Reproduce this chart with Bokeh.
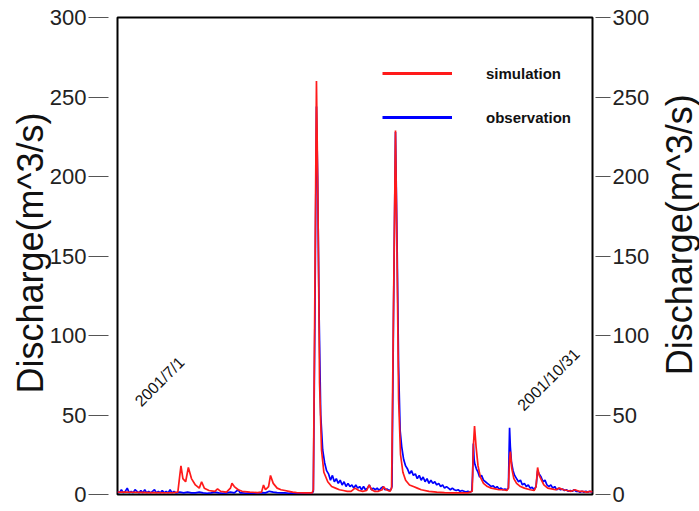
import math
import numpy as np
from bokeh.plotting import figure
from bokeh.layouts import row
from bokeh.models import (Range1d, LinearAxis, FixedTicker, Legend, LegendItem,
                          Label, Title, ColumnDataSource)
from bokeh.embed import file_html
from bokeh.resources import INLINE

# ---- data (day offset from 2001/7/1, discharge m^3/s) ----
sim_day = [0, 2, 4, 6, 8, 10, 12, 14, 15.5, 16.0, 16.3, 16.8, 17.5, 18.2, 19, 20, 21,
           21.6, 22.3, 23.5, 25, 25.7, 26.5, 28, 29, 29.4, 30, 31, 32, 34, 36, 37, 37.5,
           38, 38.8, 39.3, 40, 41, 42, 43, 44, 45, 46, 48, 50, 50.3, 50.7, 51.1, 51.5,
           51.9, 52.4, 53, 54, 55, 56, 57, 58, 59, 60, 61, 62, 63, 64, 64.6, 65.3, 66,
           67, 68, 68.3, 69, 70, 70.4, 70.9, 71.4, 71.8, 72.2, 72.7, 73.3, 74, 75, 76,
           77, 78, 80, 82, 84, 86, 88, 90, 91.1, 91.4, 91.7, 92.1, 92.6, 93.2, 94, 95,
           96, 97, 98, 99, 100, 100.4, 100.7, 100.9, 101.3, 101.8, 102.5, 103.5, 104.5,
           106, 107, 107.5, 107.9, 108.3, 108.9, 109.5, 110.5, 111.5, 112.5, 113.5,
           114.5, 115.5, 116.5, 117.5, 118.5, 119.5, 120.5, 121.5, 122]
sim_q = [1.5, 1.5, 1.4, 1.3, 1.2, 1.2, 1.1, 1.1, 1.5, 12, 18, 10, 8, 17, 10, 6, 4,
         8, 4, 2.5, 2, 3.5, 2, 1.5, 4, 7, 5, 3, 2, 1.5, 1.2, 1.5, 6,
         3, 5, 12, 7, 4, 3, 2.5, 2, 1.5, 1.2, 1.0, 1.0, 3, 130, 260, 180,
         70, 28, 14, 8, 5, 4, 3, 2.5, 2, 2, 4, 2.5, 2, 2.5, 6, 3, 2,
         2, 3, 5, 3, 2, 4, 120, 229, 150, 60, 25, 14, 9, 6, 5,
         4, 3, 2, 1.5, 1.2, 1, 1, 1, 2, 30, 43, 30, 18, 11, 7, 5,
         4, 3.5, 3, 3, 2.5, 4, 22, 27, 16, 10, 7, 5, 4,
         3, 2.5, 5, 17, 12, 9, 6, 4, 3.5, 3, 4,
         3, 2.5, 2, 3, 2, 2, 1.5, 2, 1.5]

obs_day = [0, 0.5, 1, 1.5, 2, 2.5, 3, 3.5, 4, 4.5, 5, 5.5, 6, 6.5, 7, 7.5, 8, 8.5, 9,
           9.5, 10, 10.5, 11, 11.5, 12, 12.5, 13, 13.5, 14, 14.5, 15, 16, 17, 18, 19,
           20, 21, 22, 23, 24, 25, 26, 27, 28, 29, 30, 31, 31.5, 32, 33, 34, 35, 36, 37,
           38, 39, 40, 41, 42, 43, 44, 45, 46, 47, 48, 49, 50, 50.3, 50.7, 51.1, 51.4,
           51.8, 52.2, 52.7, 53.2, 53.7, 54.2, 54.7, 55.2, 55.7, 56.2, 56.7, 57.2, 57.7,
           58.2, 58.7, 59.2, 59.7, 60.2, 60.7, 61.2, 61.7, 62.2, 62.7, 63.2, 63.7, 64.2,
           64.7, 65.2, 65.7, 66.2, 66.7, 67.2, 67.7, 68.2, 68.7, 69.2, 69.7, 70.2, 70.5,
           70.9, 71.4, 71.8, 72.2, 72.6, 73, 73.5, 74, 74.5, 75, 75.5, 76, 76.5, 77,
           77.5, 78, 78.5, 79, 79.5, 80, 80.5, 81, 81.5, 82, 82.5, 83, 83.5, 84, 84.5,
           85, 85.5, 86, 86.5, 87, 87.5, 88, 88.5, 89, 89.5, 90, 90.5, 91, 91.2, 91.4,
           91.6, 91.8, 92.2, 92.6, 93, 93.5, 94, 94.5, 95, 95.5, 96, 96.5, 97, 97.5, 98,
           98.5, 99, 99.5, 100, 100.4, 100.6, 100.7, 100.9, 101.2, 101.6, 102, 102.5,
           103, 103.5, 104, 104.5, 105, 105.5, 106, 106.5, 107, 107.5, 107.9, 108.3,
           108.8, 109.3, 109.8, 110.3, 110.8, 111.3, 111.8, 112.3, 112.8, 113.3, 113.8,
           114.3, 114.8, 115.3, 115.8, 116.3, 116.8, 117.3, 117.8, 118.3, 118.8, 119.3,
           119.8, 120.3, 120.8, 121.3, 121.8, 122]
obs_q = [2, 1, 3, 1, 2, 4, 1, 2, 1, 3, 2, 1, 2.5, 1, 3, 1, 2, 1, 2,
         3, 1, 2, 1, 2.5, 1, 2, 1, 3, 1, 2, 1, 1.5, 1, 1.5, 1,
         1, 1.5, 1, 0.8, 1, 1.5, 1, 0.8, 1, 1.5, 1, 3, 1, 1, 0.8, 1, 0.8, 1, 1.2,
         1, 2, 1.5, 1.2, 1, 1, 0.8, 1, 0.8, 1, 0.8, 1, 1, 2, 110, 244, 200,
         110, 50, 28, 20, 15, 13, 9, 12, 8, 10, 7, 9, 6,
         8, 5, 7, 5, 6, 4, 6, 4, 5, 3, 5, 3, 4,
         6, 3, 4, 3, 4, 2.5, 4, 5, 3, 3.5, 2.5, 3, 5,
         115, 228, 160, 80, 40, 30, 22, 18, 16, 13, 15, 12, 13, 10,
         12, 9, 11, 8, 10, 7, 9, 7, 8, 6, 7, 5, 6, 4, 5,
         4, 3, 4, 3, 2.5, 3, 2, 2.5, 2, 1.5, 2, 1.5, 2, 12, 32,
         22, 19, 16, 14, 11, 12, 9, 8, 7, 6, 5, 5.5, 4, 5, 3.5,
         4, 3, 3.5, 3, 4, 30, 42, 30, 20, 15, 12, 10,
         8, 9, 6, 7, 5, 6, 4, 4.5, 3, 5, 15, 13,
         11, 8, 9, 6, 5, 6, 4, 5, 3, 4, 3,
         3.5, 2.5, 3, 2, 2.5, 2, 3, 2, 2, 1.5, 2,
         1.5, 2, 1.5, 2, 1.5, 1.5]

y_ticks = [0, 50, 100, 150, 200, 250, 300]
y_title = "Discharge(m^3/s)"
series_names = ["simulation", "observation"]
date_labels = ["2001/7/1", "2001/10/31"]

FONT = "Liberation Sans"
TITLE_SIZE = "36px"
RED = "#ff1a1a"
BLUE = "#0000ff"

W, H, WT = 652, 507, 47
p = figure(width=W, height=H, output_backend="svg", toolbar_location=None,
           x_range=Range1d(0, 122), y_range=Range1d(0, 300),
           min_border_left=117, min_border_right=W - 592, min_border_top=17,
           min_border_bottom=H - 494)
p.xaxis.visible = False
p.xgrid.visible = False
p.ygrid.visible = False
p.outline_line_color = "black"
p.outline_line_width = 2
p.background_fill_color = "white"
p.border_fill_color = "white"

def style_axis(ax, tin, tout):
    ax.ticker = FixedTicker(ticks=y_ticks)
    ax.axis_line_color = None
    ax.major_tick_in = tin
    ax.major_tick_out = tout
    ax.major_tick_line_color = "#555555"
    ax.major_tick_line_width = 1
    ax.minor_tick_line_color = None
    ax.major_label_text_font = FONT
    ax.major_label_text_font_size = "22px"
    ax.major_label_text_color = "#222222"
    ax.major_label_standoff = 2

left = p.yaxis[0]
style_axis(left, -9, 29)

right = LinearAxis()
style_axis(right, -3, 18)
p.add_layout(right, "right")

# left title: reads bottom-to-top, starting ~100px above the frame bottom
p.add_layout(Title(text=y_title, align="left", offset=101, standoff=-8,
                   text_font=FONT, text_font_size=TITLE_SIZE,
                   text_font_style="normal", text_color="#111111"), "left")

obs_src = ColumnDataSource(dict(x=obs_day, y=obs_q))
sim_src = ColumnDataSource(dict(x=sim_day, y=sim_q))
p.line("x", "y", source=obs_src, line_color=BLUE, line_width=1.7)
p.line("x", "y", source=sim_src, line_color=RED, line_width=1.7)

# legend keys: thicker lines, as in the reference legend
key_src = ColumnDataSource(dict(x=np.array([np.nan]), y=np.array([np.nan])))
k_sim = p.line("x", "y", source=key_src, line_color=RED, line_width=3)
k_obs = p.line("x", "y", source=key_src, line_color=BLUE, line_width=3)

legend = Legend(items=[LegendItem(label=series_names[0], renderers=[k_sim]),
                       LegendItem(label=series_names[1], renderers=[k_obs])],
                location=(265, 367), orientation="vertical",
                glyph_width=70, glyph_height=20, label_standoff=34,
                spacing=24, padding=0, margin=0,
                border_line_color=None, background_fill_alpha=0,
                label_text_font=FONT, label_text_font_size="15px",
                label_text_font_style="bold", label_text_color="#111111")
p.add_layout(legend)

for txt, xd, yd in [(date_labels[0], 10.8, 71), (date_labels[1], 110.7, 72.3)]:
    p.add_layout(Label(x=xd, y=yd, text=txt, angle=math.pi / 4,
                       text_align="center", text_baseline="middle",
                       text_font=FONT, text_font_size="16px", text_color="#111111"))

# right-hand axis title in a narrow side figure (reads bottom-to-top)
pt = figure(width=WT, height=H, output_backend="svg", toolbar_location=None,
            x_range=Range1d(0, WT), y_range=Range1d(0, H),
            min_border=0, min_border_left=0, min_border_right=0,
            min_border_top=0, min_border_bottom=0)
pt.axis.visible = False
pt.grid.visible = False
pt.outline_line_color = None
pt.background_fill_color = "white"
pt.border_fill_color = "white"
pt.add_layout(Label(x=27, y=H - 231, text=y_title, angle=math.pi / 2,
                    text_align="center", text_baseline="middle",
                    text_font=FONT, text_font_size=TITLE_SIZE, text_color="#111111"))

open("out.html", "w").write(file_html(row(p, pt), INLINE))
